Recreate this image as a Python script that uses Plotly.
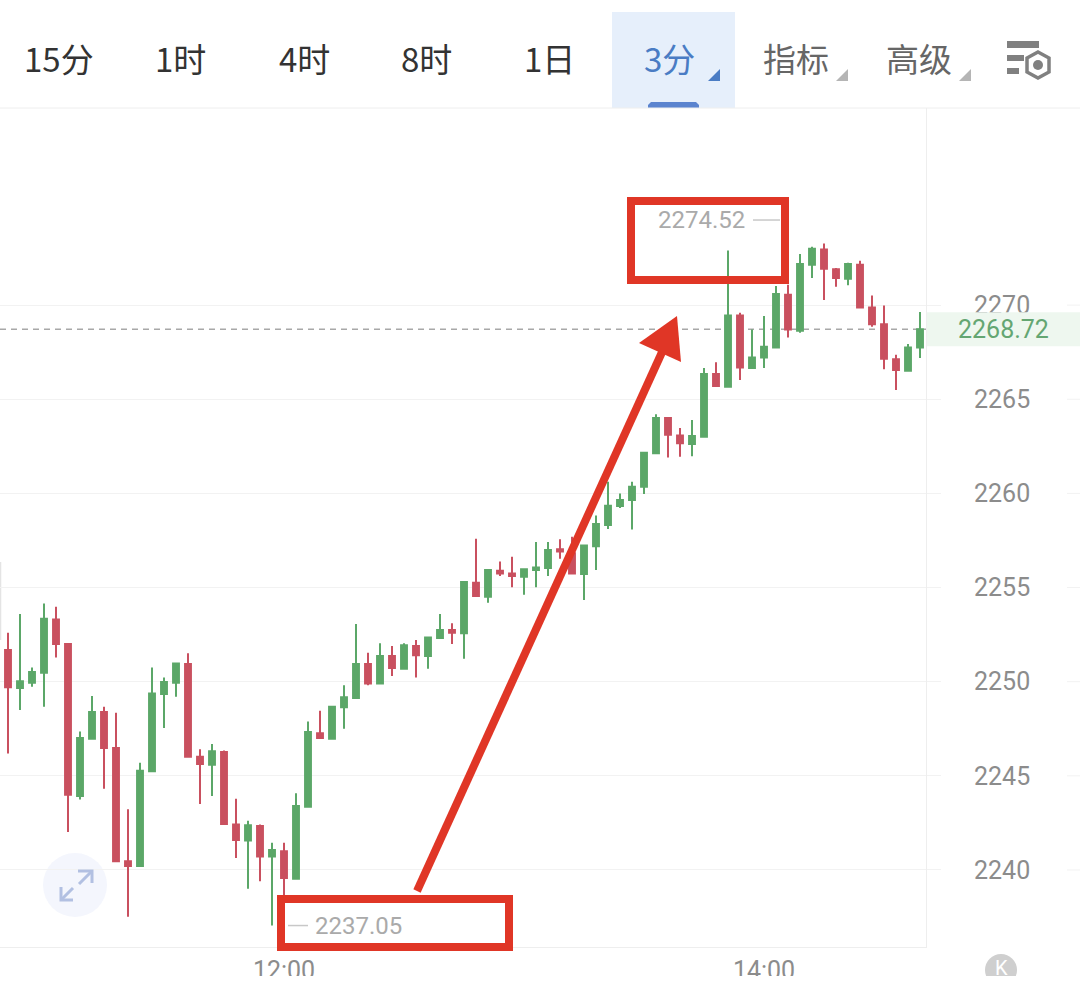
import plotly.graph_objects as go

# ---- data ----
opens = [2251.68, 2249.66, 2249.95, 2250.48, 2253.31, 2252.00, 2243.93, 2246.97, 2248.39, 2246.48,
         2240.46, 2240.21, 2245.24, 2249.35, 2249.95, 2250.94, 2246.02, 2245.59, 2246.27, 2242.41,
         2241.56, 2242.34, 2240.71, 2240.99, 2239.54, 2243.36, 2247.26, 2246.97, 2248.64, 2249.13,
         2250.94, 2249.91, 2251.36, 2250.69, 2251.89, 2251.36, 2252.32, 2252.74, 2252.57, 2255.26,
         2254.51, 2255.89, 2255.75, 2255.58, 2255.93, 2256.04, 2257.03, 2256.82, 2255.72, 2257.20,
         2258.32, 2259.33, 2259.65, 2260.36, 2262.13, 2264.00, 2263.08, 2262.62, 2263.01, 2266.34,
         2265.67, 2269.45, 2266.66, 2267.22, 2267.75, 2270.55, 2268.64, 2272.14, 2272.96, 2271.90,
         2271.40, 2272.14, 2269.88, 2268.99, 2267.12, 2266.51, 2267.75]
highs = [2252.60, 2253.59, 2250.76, 2254.16, 2253.98, 2252.00, 2247.36, 2249.24, 2248.67, 2248.35,
         2243.22, 2245.70, 2250.76, 2250.23, 2250.97, 2251.51, 2246.41, 2246.69, 2246.34, 2243.79,
         2242.62, 2242.41, 2241.45, 2241.45, 2244.07, 2247.89, 2248.46, 2248.67, 2249.81, 2253.06,
         2251.54, 2252.04, 2251.89, 2252.04, 2252.21, 2252.35, 2253.59, 2253.10, 2255.29, 2257.59,
         2255.93, 2256.39, 2256.64, 2255.97, 2257.42, 2257.42, 2257.56, 2257.70, 2257.24, 2258.83,
         2260.62, 2260.00, 2260.62, 2262.20, 2264.21, 2264.00, 2263.47, 2263.90, 2266.66, 2266.97,
         2272.90, 2269.59, 2268.71, 2269.42, 2271.01, 2271.08, 2272.71, 2273.10, 2273.28, 2271.97,
         2272.25, 2272.36, 2270.51, 2269.98, 2267.36, 2267.93, 2269.63]
lows = [2246.19, 2248.50, 2249.73, 2248.67, 2251.29, 2242.02, 2243.75, 2246.97, 2244.32, 2240.42,
        2237.52, 2240.21, 2245.24, 2247.54, 2249.20, 2246.02, 2243.50, 2243.93, 2242.44, 2240.64,
        2239.01, 2239.40, 2237.05, 2238.51, 2239.54, 2243.36, 2247.01, 2246.97, 2247.50, 2249.13,
        2249.81, 2249.91, 2250.30, 2250.69, 2250.23, 2250.69, 2252.32, 2252.00, 2251.22, 2254.51,
        2254.20, 2255.61, 2255.01, 2254.62, 2255.01, 2255.61, 2256.53, 2255.75, 2254.34, 2255.93,
        2258.11, 2259.22, 2258.09, 2259.97, 2262.13, 2261.91, 2261.95, 2261.98, 2263.01, 2265.70,
        2265.67, 2266.02, 2266.66, 2266.66, 2267.75, 2268.28, 2268.53, 2271.44, 2270.27, 2270.98,
        2271.05, 2269.84, 2268.85, 2266.59, 2265.49, 2266.51, 2267.19]
closes = [2249.70, 2250.02, 2250.51, 2253.35, 2252.00, 2244.00, 2247.01, 2248.39, 2246.48, 2240.46,
          2240.21, 2245.27, 2249.38, 2249.98, 2250.97, 2246.02, 2245.63, 2246.30, 2242.44, 2241.59,
          2242.37, 2240.71, 2241.06, 2239.58, 2243.40, 2247.33, 2247.01, 2248.67, 2249.17, 2250.94,
          2249.91, 2251.36, 2250.73, 2251.93, 2251.40, 2252.35, 2252.74, 2252.60, 2255.29, 2254.55,
          2255.93, 2255.75, 2255.61, 2255.97, 2256.07, 2256.99, 2256.92, 2255.75, 2257.24, 2258.37,
          2259.35, 2259.65, 2260.36, 2262.16, 2264.00, 2263.12, 2262.66, 2263.05, 2266.34, 2265.70,
          2269.45, 2266.69, 2267.22, 2267.79, 2270.59, 2268.71, 2272.18, 2272.99, 2271.93, 2271.44,
          2272.18, 2269.88, 2268.99, 2267.15, 2266.55, 2267.75, 2268.72]
x_index = list(range(len(opens)))

x_tick_positions = [23, 63]
x_tick_labels = ["12:00", "14:00"]
y_ticks = [2240, 2245, 2250, 2255, 2260, 2265, 2270]
y_tick_labels = [str(v) for v in y_ticks]
last_price = 2268.72
high_price = 2274.52
low_price = 2237.05
nav_labels = ["15分", "1时", "4时", "8时", "1日", "3分", "指标", "高级"]
nav_centers = [59, 180, 304, 426, 549, 669, 796, 919]
nav_colors = ["#333333"] * 5 + ["#4a7cc4", "#666666", "#666666"]

W, H = 1080, 994
GREEN, RED = "#5ba768", "#c9505f"
CALL = "#e03626"
LATIN = "Roboto, sans-serif"
CJK = "Noto Sans CJK SC, sans-serif"


def px(x):
    return x / W


def py(y):
    return 1 - y / H


def sh(kind, x0, y0, x1, y1, layer="above", **kw):
    return dict(type=kind, xref="paper", yref="paper", x0=px(x0), x1=px(x1),
                y0=py(y0), y1=py(y1), layer=layer, **kw)


def path(points, close=False, layer="above", **kw):
    d = "M " + " L ".join(f"{px(a):.5f} {py(b):.5f}" for a, b in points) + (" Z" if close else "")
    return dict(type="path", xref="paper", yref="paper", path=d, layer=layer, **kw)


noline = dict(width=0)
shapes = [
    # tab bar
    sh("rect", 612, 12, 735, 108, layer="below", fillcolor="#e6effb", line=noline),
    path([(648, 108), (648, 105), (651, 102), (696, 102), (699, 105), (699, 108)], True,
         layer="below", fillcolor="#5b84cf", line=noline),
    path([(708, 81), (720, 81), (720, 69)], True, fillcolor="#4a7cc4", line=noline),
    path([(836, 81), (848, 81), (848, 69)], True, fillcolor="#b5b5b5", line=noline),
    path([(959, 81), (971, 81), (971, 69)], True, fillcolor="#b5b5b5", line=noline),
    sh("line", 0, 108, 1080, 108, layer="below", line=dict(color="#eeeeee", width=1)),
    # settings icon
    sh("rect", 1007, 41, 1039, 48, fillcolor="#808080", line=noline),
    sh("rect", 1007, 55, 1024, 61, fillcolor="#808080", line=noline),
    sh("rect", 1007, 68, 1019, 74, fillcolor="#808080", line=noline),
    path([(1038, 52), (1049, 58), (1049, 72), (1038, 78), (1027, 72), (1027, 58)], True,
         fillcolor="#ffffff", line=dict(color="#808080", width=3.5)),
    sh("circle", 1033, 60, 1043, 70, fillcolor="#808080", line=noline),
    # faint edge at the left of the chart
    sh("line", 0.5, 562, 0.5, 640, layer="below", line=dict(color="#e4e4e4", width=1.5)),
    # last price line and band
    dict(type="line", xref="paper", yref="y", x0=0, x1=px(926), y0=last_price, y1=last_price,
         layer="below", line=dict(color="#a8a8a8", width=1.3, dash="6px,5px")),
    dict(type="rect", xref="paper", yref="y", x0=px(927), x1=1,
         y0=last_price - 0.9, y1=last_price + 0.9, layer="above",
         fillcolor="#eef7ef", line=noline),
    # expand button
    sh("circle", 43, 853, 107, 917, layer="below", fillcolor="#f4f6fd", line=noline),
    path([(79, 884), (92, 871)], line=dict(color="#b2c0e2", width=3)),
    path([(78, 871), (92, 871), (92, 883)], line=dict(color="#b2c0e2", width=3)),
    path([(73, 888), (61, 900)], line=dict(color="#b2c0e2", width=3)),
    path([(61, 887), (61, 900), (73, 900)], line=dict(color="#b2c0e2", width=3)),
    # high and low leader lines
    dict(type="line", xref="paper", yref="y", x0=px(753), x1=px(780), y0=high_price, y1=high_price,
         layer="above", line=dict(color="#c8c8c8", width=1.5)),
    dict(type="line", xref="paper", yref="y", x0=px(288), x1=px(308), y0=low_price, y1=low_price,
         layer="above", line=dict(color="#c8c8c8", width=1.5)),
    # hand-drawn callouts
    sh("rect", 631, 201, 785, 280, line=dict(color=CALL, width=8)),
    sh("rect", 281, 899, 509, 947, line=dict(color=CALL, width=8)),
    path([(417, 891), (663, 350)], line=dict(color=CALL, width=8)),
    path([(677, 316), (639, 343), (681, 362)], True, fillcolor=CALL, line=noline),
    # K badge
    sh("circle", 985, 954, 1017, 986, fillcolor="#cfcfcf", line=noline),
    # the bottom edge clips labels
    sh("rect", 0, 976, 1080, 994, fillcolor="#ffffff", line=noline),
]
for tick in y_ticks:
    shapes.append(dict(type="line", xref="paper", yref="y", x0=px(1067), x1=1, y0=tick, y1=tick,
                       layer="below", line=dict(color="#f2f2f2", width=1)))

annotations = [
    dict(x=px(c), y=py(58), xref="paper", yref="paper", text=t, showarrow=False,
         font=dict(family=CJK, size=33, color=col), xanchor="center", yanchor="middle")
    for t, c, col in zip(nav_labels, nav_centers, nav_colors)
]
annotations += [
    dict(x=px(1003), y=last_price, xref="paper", yref="y", text=f"{last_price:.2f}", showarrow=False,
         font=dict(family=LATIN, size=25, color="#64a672"), xanchor="center", yanchor="middle"),
    dict(x=px(701), y=high_price, xref="paper", yref="y", text=f"{high_price:.2f}", showarrow=False,
         font=dict(family=LATIN, size=24, color="#aaaaaa"), xanchor="center", yanchor="middle"),
    dict(x=px(358), y=low_price, xref="paper", yref="y", text=f"{low_price:.2f}", showarrow=False,
         font=dict(family=LATIN, size=24, color="#aaaaaa"), xanchor="center", yanchor="middle"),
    dict(x=px(1001), y=py(968), xref="paper", yref="paper", text="K", showarrow=False,
         font=dict(family=LATIN, size=20, color="#ffffff"), xanchor="center", yanchor="middle"),
]

fig = go.Figure(go.Candlestick(
    x=x_index, open=opens, high=highs, low=lows, close=closes,
    increasing=dict(line=dict(color=GREEN, width=2), fillcolor=GREEN),
    decreasing=dict(line=dict(color=RED, width=2), fillcolor=RED),
    whiskerwidth=0, hoverinfo="none", showlegend=False,
))
fig.update_layout(
    width=W, height=H, margin=dict(l=0, r=0, t=0, b=0),
    paper_bgcolor="#ffffff", plot_bgcolor="#ffffff", boxgap=0.3,
    shapes=shapes, annotations=annotations, showlegend=False,
    xaxis=dict(domain=[0, px(926)], range=[-0.667, 76.5], rangeslider=dict(visible=False),
               tickmode="array", tickvals=x_tick_positions, ticktext=x_tick_labels,
               ticks="", showgrid=False, zeroline=False, showline=True, linecolor="#eeeeee",
               linewidth=1, ticklabelstandoff=1,
               tickfont=dict(family=LATIN, size=25, color="#8c8c8c")),
    yaxis=dict(domain=[py(947), py(108)], range=[2235.91, 2280.47], side="right",
               tickmode="array", tickvals=y_ticks, ticktext=y_tick_labels,
               ticks="outside", ticklen=14, tickcolor="#f2f2f2", tickwidth=1,
               ticklabelstandoff=28, showgrid=True, gridcolor="#f2f2f2", gridwidth=1,
               zeroline=False, showline=True, linecolor="#eeeeee", linewidth=1,
               tickfont=dict(family=LATIN, size=25, color="#8c8c8c")),
)
fig.write_html("out.html", config=dict(displayModeBar=False),
               post_script="document.body.style.margin='0';document.documentElement.style.overflow='hidden';")
